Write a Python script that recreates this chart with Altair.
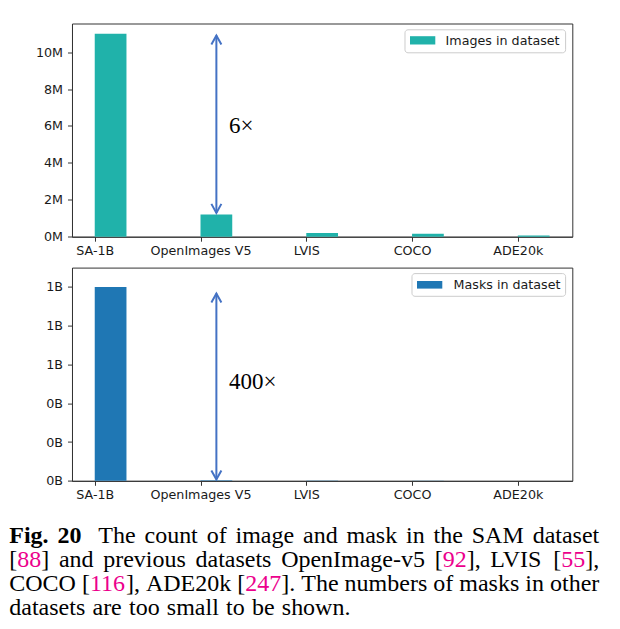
import json
import altair as alt
import pandas as pd

# ---------------- data ----------------
datasets = ["SA-1B", "OpenImages V5", "LVIS", "COCO", "ADE20k"]
images_in_dataset = [11.0e6, 1.2e6, 0.2e6, 0.16e6, 0.07e6]
masks_in_dataset = [1.1e9, 2.7e6, 1.5e6, 0.9e6, 0.7e6]
series_names = ["Images in dataset", "Masks in dataset"]
image_ticks = [0, 2e6, 4e6, 6e6, 8e6, 10e6]
mask_ticks = [0, 0.22e9, 0.44e9, 0.66e9, 0.88e9, 1.1e9]
image_arrow = [1.29e6, 10.9e6]      # arrow tips (low, high)
mask_arrow = [0.008e9, 1.063e9]
ratio_labels = ["6×", "400×"]
ratio_label_values = [6.0e6, 0.561e9]

caption_lines = [
    "*Fig.* *20*  The count of image and mask in the SAM dataset",
    "[{88}] and previous datasets OpenImage-v5 [{92}], LVIS [{55}],",
    "COCO [{116}], ADE20k [{247}]. The numbers of masks in other",
    "datasets are too small to be shown.",
]

# ---------------- layout / style ----------------
W, H = 500.3, 213.2
ORIGIN_X = 70.7           # absolute x of plot origin
BOTTOM_ORIGIN_Y = 267.3   # absolute y of bottom plot origin
BAR_W = 0.3
X_DOMAIN = [-0.215, 4.515]
ARROW_X = 1.15
LABEL_X = 1.27
TEAL = "#20b2aa"
BLUE = "#1f77b4"
ARROW_COLOR = "#4472c4"
MAGENTA = "#ec008c"
FRAME = "#333333"
TICK_FONT = "DejaVu Sans"
TICK_SIZE_PX = 12.7
SERIF = "Liberation Serif"
CAP_FS = 24
CAP_LEFT, CAP_RIGHT = 8.0, 598.0
CAP_BASELINES = [542.5, 566.5, 590.5, 614.5]

df = pd.DataFrame({"pos": list(range(len(datasets))),
                   "images": images_in_dataset,
                   "masks": masks_in_dataset})
df["pos2"] = df["pos"] + BAR_W
df["base"] = 0.0

x_label_expr = json.dumps(datasets) + "[datum.value]"


def x_enc():
    return alt.X("pos:Q",
                 scale=alt.Scale(domain=X_DOMAIN, nice=False, zero=False),
                 axis=alt.Axis(values=list(range(len(datasets))), labelExpr=x_label_expr,
                               title=None, grid=False, labelAngle=0, labelFlush=False,
                               labelOverlap=False, tickSize=4.5, labelPadding=3,
                               labelFont=TICK_FONT, labelFontSize=TICK_SIZE_PX,
                               labelColor="#1a1a1a", domainColor=FRAME, tickColor=FRAME))


def y_enc(domain_max, ticks, div, unit):
    return alt.Y("val:Q",
                 scale=alt.Scale(domain=[0, domain_max], nice=False, zero=True),
                 axis=alt.Axis(values=ticks,
                               labelExpr=f"format(datum.value/{div}, '.0f') + '{unit}'",
                               title=None, grid=False, tickSize=4.5, labelPadding=5,
                               labelFont=TICK_FONT, labelFontSize=TICK_SIZE_PX,
                               labelColor="#1a1a1a", domainColor=FRAME, tickColor=FRAME))


def panel(col, color, domain_max, ticks, div, unit, arrow, ratio, ratio_val, name, legend_geom):
    X = x_enc()
    Y = y_enc(domain_max, ticks, div, unit)
    bars_df = pd.DataFrame({"pos": df["pos"], "pos2": df["pos2"], "val": df[col], "base": df["base"]})
    bars = alt.Chart(bars_df).mark_rect(color=color).encode(
        x=X, x2=alt.X2("pos2"), y=Y, y2=alt.Y2("base"))

    arrow_df = pd.DataFrame({"pos": [ARROW_X], "val": [arrow[0]], "val2": [arrow[1]]})
    rule = alt.Chart(arrow_df).mark_rule(color=ARROW_COLOR, strokeWidth=2).encode(
        x=X, y=Y, y2=alt.Y2("val2"))
    up_df = pd.DataFrame({"pos": [ARROW_X], "val": [arrow[1]]})
    down_df = pd.DataFrame({"pos": [ARROW_X], "val": [arrow[0]]})
    head_up = alt.Chart(up_df).mark_point(shape="M-1,1.8L0,0L1,1.8", size=100, filled=False,
                                          strokeWidth=2, color=ARROW_COLOR, opacity=1).encode(x=X, y=Y)
    head_down = alt.Chart(down_df).mark_point(shape="M-1,-1.8L0,0L1,-1.8", size=100, filled=False,
                                              strokeWidth=2, color=ARROW_COLOR, opacity=1).encode(x=X, y=Y)
    ratio_df = pd.DataFrame({"pos": [LABEL_X], "val": [ratio_val], "txt": [ratio]})
    ratio_text = alt.Chart(ratio_df).mark_text(align="left", baseline="middle", font=SERIF,
                                               fontSize=23, color="black").encode(
        x=X, y=Y, text="txt:N")

    (bx1, bx2, by1, by2), (px1, px2, py1, py2), (tx, ty) = legend_geom
    leg_df = pd.DataFrame({"txt": [name]})
    box = alt.Chart(leg_df).mark_rect(fill="white", stroke="#cccccc", strokeWidth=1,
                                      cornerRadius=3).encode(
        x=alt.value(bx1), x2=alt.value(bx2), y=alt.value(by1), y2=alt.value(by2))
    patch = alt.Chart(leg_df).mark_rect(color=color).encode(
        x=alt.value(px1), x2=alt.value(px2), y=alt.value(py1), y2=alt.value(py2))
    leg_text = alt.Chart(leg_df).mark_text(align="left", baseline="middle", font=TICK_FONT,
                                           fontSize=TICK_SIZE_PX, color="#1a1a1a").encode(
        x=alt.value(tx), y=alt.value(ty), text="txt:N")
    return [bars, rule, head_up, head_down, ratio_text, box, patch, leg_text]


# ---------------- caption layout (Times metrics) ----------------
REG = {" ": 250, "[": 333, "]": 333, ",": 250, ".": 250, "-": 333, "×": 564}
REG.update({d: 500 for d in "0123456789"})
REG.update(dict(zip("ABCDEFGHIJKLMNOPQRSTUVWXYZ",
                    [722, 667, 667, 722, 611, 556, 722, 722, 333, 389, 722, 611, 889, 722, 722,
                     556, 722, 667, 556, 611, 722, 722, 944, 722, 722, 611])))
REG.update(dict(zip("abcdefghijklmnopqrstuvwxyz",
                    [444, 500, 444, 500, 444, 333, 500, 500, 278, 278, 500, 278, 778, 500, 500,
                     500, 500, 333, 389, 278, 500, 500, 722, 500, 500, 444])))
BOLD = dict(REG)
BOLD.update({"F": 611, "i": 278, "g": 500, ".": 250})


def w(s, bold):
    t = BOLD if bold else REG
    return sum(t.get(c, 500) for c in s) * CAP_FS / 1000.0


def parse_word(tok):
    bold = tok.startswith("*")
    tok = tok.strip("*")
    pieces, cur, mag = [], "", False
    for c in tok:
        if c in "{}":
            if cur:
                pieces.append((cur, mag))
            cur, mag = "", c == "{"
        else:
            cur += c
    if cur:
        pieces.append((cur, mag))
    return bold, pieces


rows = []
for li, line in enumerate(caption_lines):
    raw = line.split(" ")
    words, weights = [], []
    extra = 0
    for tok in raw:
        if tok == "":
            extra += 1
            continue
        if words:
            weights.append(1.0 + 0.9 * extra)
        extra = 0
        words.append(parse_word(tok))
    widths = [sum(w(p, b) for p, _ in pcs) for b, pcs in words]
    natural = sum(widths)
    if li < len(caption_lines) - 1:
        unit_gap = (CAP_RIGHT - CAP_LEFT - natural) / sum(weights)
    else:
        unit_gap = 0.3 * CAP_FS
    x = CAP_LEFT
    for wi, ((bold, pcs), ww) in enumerate(zip(words, widths)):
        px = x
        for text, mag in pcs:
            rows.append({"cx": px - ORIGIN_X, "cy": CAP_BASELINES[li] - BOTTOM_ORIGIN_Y,
                         "txt": text, "col": MAGENTA if mag else "#000000", "bold": bold})
            px += w(text, bold)
        if wi < len(weights):
            x += ww + unit_gap * weights[wi]
cap_df = pd.DataFrame(rows)


def caption_layer(data, weight):
    return alt.Chart(data).mark_text(align="left", baseline="alphabetic", font=SERIF,
                                     fontSize=CAP_FS, fontWeight=weight).encode(
        x=alt.X("cx:Q", scale=None), y=alt.Y("cy:Q", scale=None),
        text="txt:N", color=alt.Color("col:N", scale=None))


top_layers = panel("images", TEAL, 11.55e6, image_ticks, 1e6, "M", image_arrow,
                   ratio_labels[0], ratio_label_values[0], series_names[0],
                   ((333.0, 493.6, 6.3, 29.3), (338.0, 363.3, 12.7, 21.0), (373.6, 17.8)))
bottom_layers = panel("masks", BLUE, 1.21e9, mask_ticks, 1e9, "B", mask_arrow,
                      ratio_labels[1], ratio_label_values[1], series_names[1],
                      ((340.0, 493.6, 6.0, 28.7), (345.0, 370.3, 13.4, 21.0), (381.6, 17.2)))
bottom_layers += [caption_layer(cap_df[~cap_df["bold"]], "normal"),
                  caption_layer(cap_df[cap_df["bold"]], "bold")]

top = alt.layer(*top_layers).properties(width=W, height=H)
bottom = alt.layer(*bottom_layers).properties(width=W, height=H)

chart = alt.vconcat(top, bottom, spacing=9.1).properties(
    padding={"left": 0, "top": 14.5, "right": 2, "bottom": 2},
    background="white",
).configure_view(stroke=FRAME, strokeWidth=1)

chart.save("out.html", embed_options={"renderer": "svg", "actions": False})
